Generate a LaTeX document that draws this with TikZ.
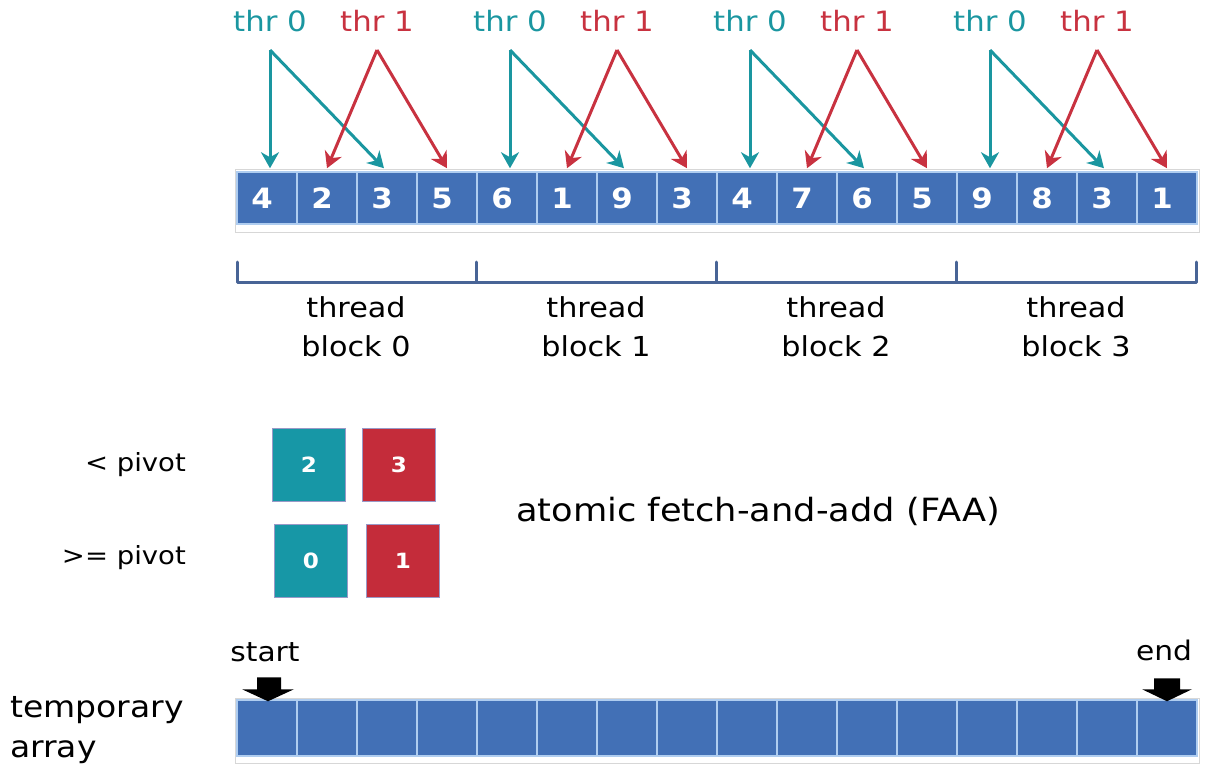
\documentclass[tikz,border=0pt]{standalone}
\usepackage{fontspec}
\setmainfont[FakeStretch=1.1]{DejaVu Sans}
\usetikzlibrary{arrows.meta}
\definecolor{cellblue}{RGB}{66,112,182}
\definecolor{cellsep}{RGB}{175,205,240}
\definecolor{thrteal}{RGB}{26,150,160}
\definecolor{thrred}{RGB}{200,50,64}
\definecolor{boxteal}{RGB}{23,151,166}
\definecolor{boxred}{RGB}{196,44,58}
\definecolor{bracecol}{RGB}{72,100,150}
\definecolor{framegray}{RGB}{215,215,215}
\tikzset{
  cell/.style={draw=cellsep, line width=1.5pt, fill=cellblue, minimum width=60pt, inner sep=0pt, text=white, font=\fontsize{28}{28}\selectfont\bfseries},
  topcell/.style={cell, minimum height=52pt},
  tmpcell/.style={cell, minimum height=56pt},
  thrlabel/.style={font=\fontsize{28}{28}\selectfont, inner sep=0pt},
  tealarrow/.style={draw=thrteal, line width=3pt, -{Stealth[length=16pt,width=18pt,inset=5pt]}},
  redarrow/.style={draw=thrred, line width=3pt, -{Stealth[length=16pt,width=18pt,inset=5pt]}},
  blocklabel/.style={align=center, font=\fontsize{27.5}{39}\selectfont, inner sep=0pt},
  pivbox/.style={draw=black!55!blue!40, line width=0.8pt, minimum width=73pt, minimum height=73pt, inner sep=0pt, text=white, font=\fontsize{21}{21}\selectfont\bfseries},
  plain/.style={font=\fontsize{25}{25}\selectfont, inner sep=0pt},
  blockarrow/.style={fill=black}
}
\begin{document}
\begin{tikzpicture}[x=1pt,y=-1pt]
\useasboundingbox (0,0) rectangle (1210,773);

% top array
\draw[draw=framegray, fill=white, line width=1pt] (235,169) rectangle (1199,232);
\foreach \v [count=\i from 0] in {4,2,3,5,6,1,9,3,4,7,6,5,9,8,3,1} {
  \node[topcell] (c\i) at ({267+60*\i},198) {\hspace*{-10pt}\v};
}

% thread labels and arrows
\foreach \b in {0,1,2,3} {
  \pgfmathtruncatemacro{\ca}{4*\b}
  \pgfmathtruncatemacro{\cb}{4*\b+1}
  \pgfmathtruncatemacro{\cc}{4*\b+2}
  \pgfmathtruncatemacro{\cd}{4*\b+3}
  \node[thrlabel, text=thrteal] (tz\b) at ({270+240*\b},21) {thr 0};
  \node[thrlabel, text=thrred] (to\b) at ({377+240*\b},21) {thr 1};
  \coordinate (az\b) at ({270+240*\b},50);
  \coordinate (ao\b) at ({377+240*\b},50);
  \draw[tealarrow] (az\b) -- ([yshift=3pt,xshift=3pt]c\ca.north);
  \draw[tealarrow] (az\b) -- ([yshift=3pt,xshift=-3pt]c\cc.north);
  \draw[redarrow] (ao\b) -- ([yshift=3pt]c\cb.north);
  \draw[redarrow] (ao\b) -- ([yshift=3pt]c\cd.north);
}

% braces
\draw[bracecol, line width=3pt, line join=round, line cap=round]
  (237,262) -- (237,282) -- (1196,282) -- (1196,262);
\foreach \x in {476,716,956} {
  \draw[bracecol, line width=3pt, line cap=round] (\x,262) -- (\x,282);
}
\foreach \b in {0,1,2,3} {
  \node[blocklabel] (bl\b) at ({356+240*\b},327) {thread\\block \b};
}

% pivot counters
\node[plain, anchor=east] (lp) at (186,465) {< pivot};
\node[plain, anchor=east] (gp) at (186,558) {>= pivot};
\node[pivbox, fill=boxteal] (p2) at (309,465) {2};
\node[pivbox, fill=boxred] (p3) at (399,465) {3};
\node[pivbox, fill=boxteal] (p0) at (311,561) {0};
\node[pivbox, fill=boxred] (p1) at (403,561) {1};
\node[plain, font=\fontsize{32}{32}\selectfont] (faa) at (758,511) {atomic fetch-and-add (FAA)};

% temporary array
\draw[draw=framegray, fill=white, line width=1pt] (235,698) rectangle (1199,763);
\foreach \i in {0,...,15} {
  \node[tmpcell] (t\i) at ({267+60*\i},728) {};
}
\node[plain, align=left, anchor=west, font=\fontsize{30}{40}\selectfont] (tmp) at (10,730) {temporary\\array};
\node[plain, font=\fontsize{27}{27}\selectfont] (st) at (265,652) {start};
\node[plain, font=\fontsize{27}{27}\selectfont] (en) at (1164,650) {end};
% start arrow
\fill[blockarrow] ([xshift=-10pt,yshift=22pt]t0.north) -- ([xshift=14pt,yshift=22pt]t0.north)
  -- ([xshift=14pt,yshift=10pt]t0.north) -- ([xshift=27pt,yshift=10pt]t0.north)
  -- ([xshift=1pt,yshift=-2pt]t0.north) -- ([xshift=-25pt,yshift=10pt]t0.north)
  -- ([xshift=-10pt,yshift=10pt]t0.north) -- cycle;
% end arrow
\fill[blockarrow] ([xshift=-13pt,yshift=21pt]t15.north) -- ([xshift=13pt,yshift=21pt]t15.north)
  -- ([xshift=13pt,yshift=10pt]t15.north) -- ([xshift=25pt,yshift=10pt]t15.north)
  -- ([xshift=0pt,yshift=-2pt]t15.north) -- ([xshift=-25pt,yshift=10pt]t15.north)
  -- ([xshift=-13pt,yshift=10pt]t15.north) -- cycle;
\end{tikzpicture}
\end{document}
